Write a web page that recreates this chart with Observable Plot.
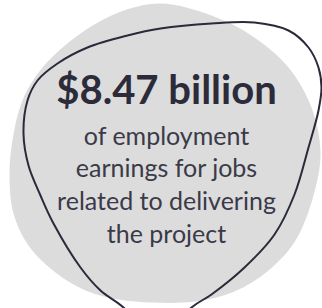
<!DOCTYPE html>
<html>
<head>
<meta charset="utf-8">
<script src="https://cdn.jsdelivr.net/npm/d3@7"></script>
<script src="https://cdn.jsdelivr.net/npm/@observablehq/plot@0.6"></script>
<style>
  html, body { margin: 0; padding: 0; background: #ffffff; }
  #chart svg { display: block; }
</style>
</head>
<body>
<div id="chart"></div>
<script>
// Headline figure and its description
const headline = ["$8.47 billion"];
const descriptionLines = [
  "of employment",
  "earnings for jobs",
  "related to delivering",
  "the project"
];

// Decorative shapes (control points in the 322x308 frame)
const blobX = [160, 211, 251, 288, 311, 320, 313, 295, 268, 234, 195, 152, 118, 85, 55, 28, 13, 9, 12, 22, 42, 80, 118];
const blobY = [3, 15, 35, 67, 107, 152, 195, 240, 270, 291, 301, 302, 299, 290, 272, 245, 213, 175, 140, 100, 67, 33, 12];

const outlineX = [157, 123, 100, 80, 53, 40, 28, 23, 27, 37, 57, 87, 127, 160, 211, 254, 288, 308, 318, 321, 318, 308, 294, 274, 244, 211, 191];
const outlineY = [345, 307, 290, 267, 223, 195, 165, 133, 100, 80, 63, 47, 35, 28, 23, 22, 30, 47, 67, 87, 110, 147, 194, 234, 267, 294, 307];

const blob = blobX.map((x, i) => ({x, y: blobY[i]}));
const outline = outlineX.map((x, i) => ({x, y: outlineY[i]}));

const W = 322, H = 308;
const cx = 166;
const headSize = 40, bodySize = 25;
const headBaseline = 105, bodyBaseline0 = 145, bodyStep = 32.7;

const headData = headline.map((t) => ({t, y: headBaseline - 0.35 * headSize}));
const bodyData = descriptionLines.map((t, i) => ({t, y: bodyBaseline0 + i * bodyStep - 0.35 * bodySize}));

const chart = Plot.plot({
  width: W,
  height: H,
  margin: 0,
  x: {domain: [0, W], range: [0, W], axis: null},
  y: {domain: [0, H], range: [0, H], axis: null},
  style: {background: "#ffffff"},
  marks: [
    Plot.line(blob, {x: "x", y: "y", curve: "catmull-rom-closed", fill: "#dcdcdc", stroke: "none"}),
    Plot.line(outline, {x: "x", y: "y", curve: "catmull-rom-closed", fill: "none", stroke: "#2a2a3a", strokeWidth: 2, clip: true}),
    Plot.text(headData, {x: () => cx, y: "y", text: "t", fontSize: headSize, fontWeight: "bold", fontFamily: "Lato", fill: "#2b2b3a", lineAnchor: "middle"}),
    Plot.text(bodyData, {x: () => cx, y: "y", text: "t", fontSize: bodySize, fontFamily: "Lato", fill: "#3a3a48", lineAnchor: "middle"})
  ]
});
document.getElementById("chart").appendChild(chart);
</script>
</body>
</html>
